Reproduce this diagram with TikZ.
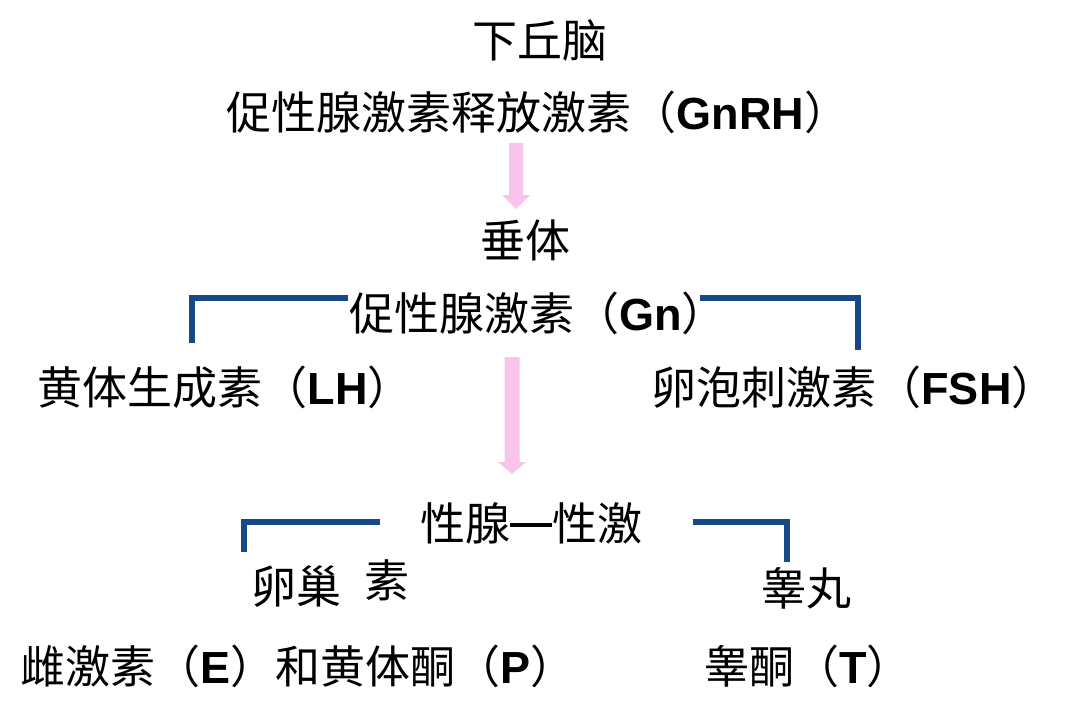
\documentclass[tikz,border=0pt]{standalone}
\usepackage{fontspec}
\setmainfont{Noto Sans CJK SC}
\newfontfamily\lat{Liberation Sans}
\usetikzlibrary{calc}
\definecolor{pinkarr}{RGB}{248,196,234}
\definecolor{bracketblue}{RGB}{22,72,138}
\tikzset{
  txt/.style={inner sep=0pt, font=\fontsize{45}{50}\selectfont, text=black},
  brk/.style={draw=bracketblue, line width=6pt, line join=miter},
  parr/.style={fill=pinkarr, draw=none}
}
\newcommand{\lt}[1]{{\lat\bfseries #1}}
\begin{document}
\begin{tikzpicture}[x=1pt,y=-1pt]
\useasboundingbox (0,0) rectangle (1080,718);
\fill[white] (0,0) rectangle (1080,718);
% texts
\node[txt] (hyp) at (540,40) {下丘脑};
\node[txt] (gnrh) at (538,112) {促性腺激素释放激素（\lt{GnRH}）};
\node[txt] (pit) at (525,240) {垂体};
\node[txt] (gn) at (538,313) {促性腺激素（\lt{Gn}）};
\node[txt] (lh) at (225,387) {黄体生成素（\lt{LH}）};
\node[txt] (fsh) at (854,387) {卵泡刺激素（\lt{FSH}）};
\node[txt] (gon) at (531,523) {性腺\raisebox{0.3em}{\rule{42pt}{3.5pt}}性激};
\node[txt] (ova) at (296,587) {卵巢};
\node[txt] (su) at (387,580) {素};
\node[txt] (tes) at (806,588) {睾丸};
\node[txt] (ep) at (298,666) {雌激素（\lt{E}）和黄体酮（\lt{P}）};
\node[txt] (tt) at (808,666) {睾酮（\lt{T}）};
% arrows
\coordinate (a1) at (516,143);
\fill[parr] ($(a1)+(-7,0)$) -- ($(a1)+(7,0)$) -- ($(a1)+(7,52)$) -- ($(a1)+(14,52)$) -- ($(a1)+(0,66)$) -- ($(a1)+(-14,52)$) -- ($(a1)+(-7,52)$) -- cycle;
\coordinate (a2) at (512,357);
\fill[parr] ($(a2)+(-7.5,0)$) -- ($(a2)+(7.5,0)$) -- ($(a2)+(7.5,105)$) -- ($(a2)+(14,105)$) -- ($(a2)+(0,117)$) -- ($(a2)+(-14,105)$) -- ($(a2)+(-7.5,105)$) -- cycle;
% brackets
\draw[brk] (348,298) -- (192,298) -- (192,343);
\draw[brk] (700,298) -- (858,298) -- (858,350);
\draw[brk] (380,522) -- (244,522) -- (244,552);
\draw[brk] (693,522) -- (787,522) -- (787,562);
\end{tikzpicture}
\end{document}
